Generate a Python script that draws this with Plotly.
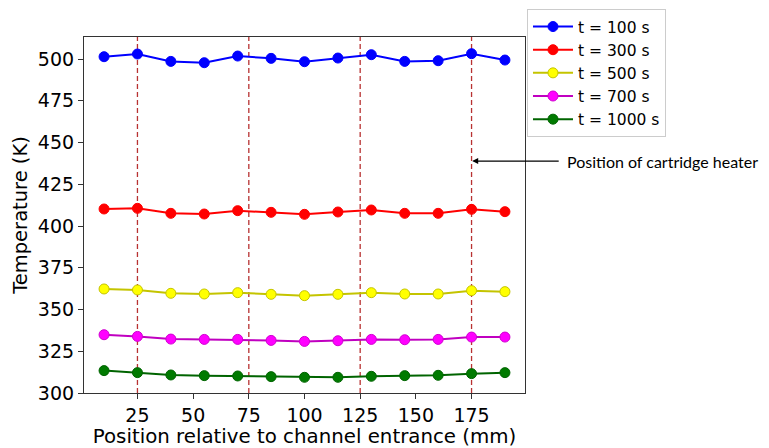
import plotly.graph_objects as go

positions = [10, 25, 40, 55, 70, 85, 100, 115, 130, 145, 160, 175, 190]
heater_positions = [25, 75, 125, 175]

t100 = [501.4, 503.0, 498.6, 497.8, 501.8, 500.4, 498.4, 500.6, 502.6, 498.6, 499.0, 503.2, 499.4]
t300 = [410.2, 410.6, 407.6, 407.2, 409.2, 408.2, 407.0, 408.4, 409.6, 407.6, 407.6, 410.0, 408.6]
t500 = [362.3, 361.7, 359.7, 359.3, 360.1, 359.1, 358.3, 359.1, 360.1, 359.3, 359.3, 361.3, 360.7]
t700 = [334.9, 333.9, 332.3, 332.1, 332.1, 331.5, 330.9, 331.3, 332.1, 331.9, 332.1, 333.5, 333.5]
t1000 = [313.4, 312.2, 310.8, 310.4, 310.2, 309.8, 309.4, 309.4, 310.0, 310.4, 310.6, 311.6, 312.2]

series_names = ["t = 100 s", "t = 300 s", "t = 500 s", "t = 700 s", "t = 1000 s"]
series_values = [t100, t300, t500, t700, t1000]
line_colors = ["#0000ff", "#ff0000", "#c4c400", "#c000c0", "#006400"]
marker_colors = ["#0000ff", "#ff0000", "#ffff00", "#ff00ff", "#007a00"]
marker_edges = ["#0000ff", "#ff0000", "#c4c400", "#d000d0", "#006400"]

fig = go.Figure()
for name, vals, lc, mc, me in zip(series_names, series_values, line_colors, marker_colors, marker_edges):
    fig.add_trace(go.Scatter(
        x=positions, y=vals, name=name, mode="lines+markers",
        line=dict(color=lc, width=2),
        marker=dict(color=mc, size=10, line=dict(color=me, width=1)),
    ))

for hp in heater_positions:
    fig.add_shape(type="line", xref="x", yref="paper", x0=hp, x1=hp, y0=0, y1=1,
                  line=dict(color="#b83232", width=1.3, dash="5px,3px"), layer="below")

# arrow pointing at heater line
fig.add_annotation(x=175.3, y=438.9, xref="x", yref="y", ax=88, ay=0, text="",
                   showarrow=True, arrowhead=2, arrowsize=1, arrowwidth=1.2,
                   arrowcolor="black")
fig.add_annotation(x=1.09, y=438.9, xref="paper", yref="y", text="Position of cartridge heater",
                   showarrow=False, xanchor="left", yanchor="middle",
                   font=dict(family="Lato", size=16, color="black"))

axis_common = dict(showline=True, linecolor="#333333", linewidth=1.2, mirror=True,
                   ticks="outside", ticklen=5, tickcolor="#333333", showgrid=False,
                   zeroline=False, automargin=False,
                   tickfont=dict(family="DejaVu Sans", size=19, color="black"))

fig.update_xaxes(range=[1, 199], tickvals=[25, 50, 75, 100, 125, 150, 175],
                 title=dict(text="Position relative to channel entrance (mm)",
                            font=dict(family="DejaVu Sans", size=19.8, color="black"), standoff=2),
                 **axis_common)
fig.update_yaxes(range=[300, 513.2], tickvals=[300, 325, 350, 375, 400, 425, 450, 475, 500],
                 title=dict(text="Temperature (K)",
                            font=dict(family="DejaVu Sans", size=19.5, color="black"), standoff=5),
                 **axis_common)

fig.update_layout(
    template="none",
    width=761, height=440,
    margin=dict(l=76, r=244, t=29, b=55, autoexpand=False),
    paper_bgcolor="white", plot_bgcolor="white",
    showlegend=True,
    legend=dict(x=1.0045, y=1.0787, xanchor="left", yanchor="top",
                bordercolor="#cccccc", borderwidth=1, bgcolor="white",
                font=dict(family="DejaVu Sans", size=15.5, color="black"),
                tracegroupgap=0, itemwidth=40),
)

fig.write_html("out.html")
